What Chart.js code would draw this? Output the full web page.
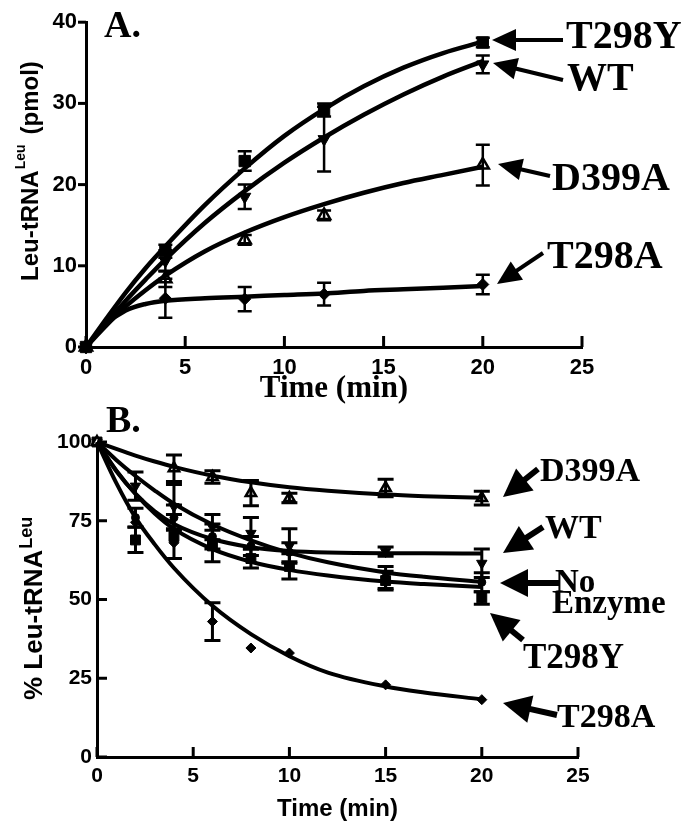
<!DOCTYPE html>
<html>
<head>
<meta charset="utf-8">
<script src="https://cdn.jsdelivr.net/npm/chart.js@4.4.1/dist/chart.umd.min.js"></script>
<style>
	html, body { margin: 0; padding: 0; background: #fff; }
	#wrap { position: relative; width: 688px; height: 829px; overflow: hidden; }
	#wrap canvas { position: absolute; left: 0; }
	#chartA { top: 0; }
	#chartB { top: 395px; }
</style>
</head>
<body>
<div id="wrap">
	<canvas id="chartA" width="688" height="410"></canvas>
	<canvas id="chartB" width="688" height="434"></canvas>
</div>
<script>
/* global Chart */
( function () {
	'use strict';

	const SERIF = '"Liberation Serif", "Times New Roman", serif';
	const SANS = '"Liberation Sans", Arial, sans-serif';

	// Panel A: aminoacylation, measured points (pmol)
	const timesA = [ 0, 4, 8, 12, 20 ];
	const t298yA = [ 0, 11.8, 22.9, 29.2, 37.5 ];
	const t298yErrA = [ 0, 0.8, 1.2, 0.8, 0.6 ];
	const wtA = [ 0, 10.6, 18.5, 25.6, 34.8 ];
	const wtErrA = [ 0, 1.3, 1.5, 4.0, 1.1 ];
	const d399aA = [ 0, 8.4, 13.2, 16.2, 22.4 ];
	const d399aErrA = [ 0, 1.0, 0.6, 0.6, 2.5 ];
	const t298aA = [ 0, 6.0, 5.9, 6.5, 7.7 ];
	const t298aErrA = [ 0, 2.4, 1.5, 1.4, 1.2 ];

	// Panel A: fitted curves
	const fitTimesA = [ 0, 1, 2, 3, 4, 6, 8, 10, 12, 14, 16, 18, 20 ];
	const t298yFitA = [ 0, 3.4, 6.7, 9.7, 12.4, 17.5, 22.0, 26.0, 29.3, 32.1, 34.4, 36.2, 37.6 ];
	const wtFitA = [ 0, 2.9, 5.7, 8.3, 10.8, 15.3, 19.2, 22.7, 25.8, 28.6, 31.1, 33.3, 35.2 ];
	const d399aFitA = [ 0, 2.6, 5.0, 7.0, 8.8, 11.8, 14.1, 16.0, 17.6, 19.0, 20.2, 21.2, 22.2 ];
	const t298aFitA = [ 0, 2.8, 4.5, 5.3, 5.7, 6.0, 6.2, 6.4, 6.6, 6.9, 7.1, 7.3, 7.5 ];

	const xTicksA = [ 0, 5, 10, 15, 20, 25 ];
	const yTicksA = [ 0, 10, 20, 30, 40 ];

	// Panel B: deacylation, measured points (% remaining)
	const timesB = [ 0, 2, 4, 6, 8, 10, 15, 20 ];
	const d399aB = [ 100, null, 91.7, 88.9, 83.8, 82.2, 85.4, 82.2 ];
	const d399aErrB = [ 0, 0, 4.2, 2.0, 4.0, 1.5, 2.8, 2.2 ];
	const wtB = [ 100, 86, 79.5, 73, 71, 67, 65.2, 61.5 ];
	const wtErrB = [ 0, 4.5, 7, 4, 5, 5.5, 1.5, 4.5 ];
	const noEnzymeB = [ 100, 76, 76, 70, 67, 65, 57, 55.5 ];
	const noEnzymeErrB = [ 0, 3, 4, 4, 3, 3, 3.5, 3 ];
	const t298yB = [ 100, 68.9, 70, 67, 63, 60.5, 56, 50.5 ];
	const t298yErrB = [ 0, 4, 7, 5, 3, 4, 3, 2 ];
	const t298aB = [ 100, 74.5, 68, 43, 34.6, 33, 22.9, 18.2 ];
	const t298aErrB = [ 0, 0, 0, 6, 0, 0, 0, 0 ];

	// Panel B: fitted curves
	const fitTimesB = [ 0, 1, 2, 3, 4, 6, 8, 10, 12, 15, 17, 20 ];
	const d399aFitB = [ 100, 97.8, 95.7, 93.8, 92.1, 89.3, 87.2, 85.6, 84.5, 83.3, 82.8, 82.3 ];
	const wtFitB = [ 100, 90.8, 83.6, 78.0, 74.0, 69.2, 66.6, 65.4, 64.9, 64.7, 64.7, 64.6 ];
	const noEnzymeFitB = [ 100, 94.3, 89.2, 84.6, 80.4, 73.8, 68.8, 64.8, 61.8, 58.6, 57.2, 55.6 ];
	const t298yFitB = [ 100, 91.0, 83.5, 77.3, 72.4, 66.0, 62.0, 59.4, 57.6, 55.7, 54.9, 54.0 ];
	const t298aFitB = [ 100, 87, 76, 67.5, 60, 48, 39, 32, 26.8, 22.4, 20.5, 18.3 ];

	const xTicksB = [ 0, 5, 10, 15, 20, 25 ];
	const yTicksB = [ 0, 25, 50, 75, 100 ];

	function pairs( xs, ys, errs ) {
		const out = [];
		xs.forEach( function ( x, i ) {
			if ( null === ys[ i ] || undefined === ys[ i ] ) {
				return;
			}
			out.push( { x: x, y: ys[ i ], err: errs ? errs[ i ] : 0 } );
		} );
		return out;
	}

	function fitSet( xs, ys, width ) {
		return {
			data: pairs( xs, ys ),
			showLine: true,
			pointRadius: 0,
			borderColor: '#000',
			borderWidth: width,
			cubicInterpolationMode: 'monotone',
			clip: false,
		};
	}

	function pointSet( xs, ys, errs, marker ) {
		return {
			data: pairs( xs, ys, errs ),
			showLine: false,
			pointStyle: marker.style,
			pointRotation: marker.rotation || 0,
			pointRadius: marker.radius,
			pointBackgroundColor: marker.fill,
			pointBorderColor: '#000',
			pointBorderWidth: marker.border || 1,
			clip: false,
			errorBars: true,
		};
	}

	const figurePlugin = {
		id: 'figure',
		afterDatasetsDraw: function ( chart, args, opts ) {
			const ctx = chart.ctx;
			const xs = chart.scales.x;
			const ys = chart.scales.y;

			ctx.save();
			ctx.strokeStyle = '#000';
			ctx.lineWidth = opts.errWidth;
			chart.data.datasets.forEach( function ( ds ) {
				if ( ! ds.errorBars ) {
					return;
				}
				ds.data.forEach( function ( p ) {
					if ( ! p.err ) {
						return;
					}
					const px = xs.getPixelForValue( p.x );
					const top = ys.getPixelForValue( p.y + p.err );
					const bot = ys.getPixelForValue( p.y - p.err );
					ctx.beginPath();
					ctx.moveTo( px, top );
					ctx.lineTo( px, bot );
					ctx.moveTo( px - opts.capHalf, top );
					ctx.lineTo( px + opts.capHalf, top );
					ctx.moveTo( px - opts.capHalf, bot );
					ctx.lineTo( px + opts.capHalf, bot );
					ctx.stroke();
				} );
			} );
			ctx.restore();
		},
		afterDraw: function ( chart, args, opts ) {
			const ctx = chart.ctx;
			const area = chart.chartArea;
			const xs = chart.scales.x;
			const ys = chart.scales.y;

			ctx.save();
			ctx.strokeStyle = '#000';
			ctx.fillStyle = '#000';
			ctx.lineWidth = 3;
			xs.ticks.forEach( function ( t ) {
				const px = xs.getPixelForValue( t.value );
				ctx.beginPath();
				ctx.moveTo( px, area.bottom );
				ctx.lineTo( px, area.bottom - opts.xTickLen );
				ctx.stroke();
			} );
			ys.ticks.forEach( function ( t ) {
				const py = ys.getPixelForValue( t.value );
				ctx.beginPath();
				ctx.moveTo( area.left, py );
				ctx.lineTo( area.left + opts.yTickLen, py );
				ctx.stroke();
			} );

			// rotated y title with superscript
			const yt = opts.yTitle;
			ctx.translate( yt.x, yt.y );
			ctx.rotate( -Math.PI / 2 );
			ctx.textAlign = 'left';
			ctx.textBaseline = 'alphabetic';
			let pos = 0;
			yt.parts.forEach( function ( part ) {
				ctx.font = 'bold ' + part.size + 'px ' + SANS;
				pos += part.gap || 0;
				ctx.fillText( part.text, pos, -( part.rise || 0 ) );
				pos += ctx.measureText( part.text ).width;
			} );
			ctx.setTransform( 1, 0, 0, 1, 0, 0 );

			// panel letter
			ctx.font = 'bold ' + opts.letter.size + 'px ' + SERIF;
			ctx.fillText( opts.letter.text, opts.letter.x, opts.letter.y );

			// arrows with labels
			opts.notes.forEach( function ( n ) {
				drawArrow( ctx, n.from, n.to, opts.arrow );
				ctx.font = 'bold ' + n.size + 'px ' + SERIF;
				n.lines.forEach( function ( line ) {
					ctx.fillText( line.text, line.x, line.y );
				} );
			} );
			ctx.restore();
		},
	};

	function drawArrow( ctx, from, to, style ) {
		const dx = to[ 0 ] - from[ 0 ];
		const dy = to[ 1 ] - from[ 1 ];
		const len = Math.sqrt( dx * dx + dy * dy );
		const ux = dx / len;
		const uy = dy / len;
		const bx = to[ 0 ] - ux * style.head;
		const by = to[ 1 ] - uy * style.head;

		ctx.lineWidth = style.shaft;
		ctx.beginPath();
		ctx.moveTo( from[ 0 ], from[ 1 ] );
		ctx.lineTo( bx + ux * 2, by + uy * 2 );
		ctx.stroke();

		ctx.beginPath();
		ctx.moveTo( to[ 0 ], to[ 1 ] );
		ctx.lineTo( bx - uy * style.half, by + ux * style.half );
		ctx.lineTo( bx + uy * style.half, by - ux * style.half );
		ctx.closePath();
		ctx.fill();
	}

	function axes( cfg ) {
		return {
			x: {
				type: 'linear',
				min: cfg.xTicks[ 0 ],
				max: cfg.xTicks[ cfg.xTicks.length - 1 ],
				afterBuildTicks: function ( scale ) {
					scale.ticks = cfg.xTicks.map( function ( v ) {
						return { value: v };
					} );
				},
				afterFit: function ( scale ) {
					scale.height = cfg.xHeight;
				},
				grid: { drawOnChartArea: false, drawTicks: false },
				border: { display: true, color: '#000', width: 3 },
				ticks: {
					color: '#000',
					padding: cfg.xPad,
					font: { family: SANS, size: cfg.tickSize, weight: 'bold' },
				},
				title: {
					display: true,
					text: 'Time (min)',
					color: '#000',
					font: cfg.xTitleFont,
					padding: { top: 0, bottom: cfg.xTitlePad },
				},
			},
			y: {
				type: 'linear',
				min: cfg.yTicks[ 0 ],
				max: cfg.yTicks[ cfg.yTicks.length - 1 ],
				afterBuildTicks: function ( scale ) {
					scale.ticks = cfg.yTicks.map( function ( v ) {
						return { value: v };
					} );
				},
				afterFit: function ( scale ) {
					scale.width = cfg.yWidth;
				},
				grid: { drawOnChartArea: false, drawTicks: false },
				border: { display: true, color: '#000', width: 3 },
				ticks: {
					color: '#000',
					padding: cfg.yPad,
					font: { family: SANS, size: cfg.tickSize, weight: 'bold' },
				},
			},
		};
	}

	function baseOptions( cfg ) {
		return {
			responsive: false,
			animation: false,
			events: [],
			layout: { autoPadding: false, padding: cfg.padding },
			plugins: {
				legend: { display: false },
				tooltip: { enabled: false },
				figure: cfg.figure,
			},
			scales: axes( cfg ),
		};
	}

	// ---- Panel A ----
	new Chart( document.getElementById( 'chartA' ), {
		type: 'scatter',
		data: {
			datasets: [
				fitSet( fitTimesA, t298yFitA, 4.5 ),
				fitSet( fitTimesA, wtFitA, 4.5 ),
				fitSet( fitTimesA, d399aFitA, 4.5 ),
				fitSet( fitTimesA, t298aFitA, 4.5 ),
				pointSet( timesA, t298yA, t298yErrA, { style: 'rect', radius: 8, fill: '#000' } ),
				pointSet( timesA, wtA, wtErrA, { style: 'triangle', rotation: 180, radius: 7, fill: '#000' } ),
				pointSet( timesA, d399aA, d399aErrA, { style: 'triangle', radius: 7, fill: '#fff', border: 2.5 } ),
				pointSet( timesA, t298aA, t298aErrA, { style: 'rectRot', radius: 6, fill: '#000' } ),
			],
		},
		options: baseOptions( {
			padding: { left: 0, top: 20, right: 106, bottom: 0 },
			xTicks: xTicksA,
			yTicks: yTicksA,
			xHeight: 63,
			yWidth: 86,
			xPad: 8,
			yPad: 9,
			tickSize: 22,
			xTitleFont: { family: SERIF, size: 31, weight: 'bold' },
			xTitlePad: 2,
			figure: {
				errWidth: 2.5,
				capHalf: 7,
				xTickLen: 11,
				yTickLen: -8,
				yTitle: {
					x: 38,
					y: 281,
					parts: [
						{ text: 'Leu-tRNA', size: 24 },
						{ text: 'Leu', size: 14, rise: 13, gap: 1 },
						{ text: '(pmol)', size: 24, gap: 10 },
					],
				},
				letter: { text: 'A.', x: 104, y: 37, size: 38 },
				arrow: { shaft: 4, head: 24, half: 11 },
				notes: [
					{ from: [ 563, 40 ], to: [ 492, 40 ], size: 40, lines: [ { text: 'T298Y', x: 566, y: 48 } ] },
					{ from: [ 563, 80 ], to: [ 493, 63 ], size: 40, lines: [ { text: 'WT', x: 567, y: 90 } ] },
					{ from: [ 550, 176 ], to: [ 498, 164 ], size: 40, lines: [ { text: 'D399A', x: 552, y: 190 } ] },
					{ from: [ 543, 253 ], to: [ 497, 284 ], size: 40, lines: [ { text: 'T298A', x: 547, y: 268 } ] },
				],
			},
		} ),
		plugins: [ figurePlugin ],
	} );

	// ---- Panel B ----
	new Chart( document.getElementById( 'chartB' ), {
		type: 'scatter',
		data: {
			datasets: [
				fitSet( fitTimesB, d399aFitB, 4 ),
				fitSet( fitTimesB, wtFitB, 4 ),
				fitSet( fitTimesB, noEnzymeFitB, 4 ),
				fitSet( fitTimesB, t298yFitB, 4 ),
				fitSet( fitTimesB, t298aFitB, 4 ),
				pointSet( timesB, d399aB, d399aErrB, { style: 'triangle', radius: 6, fill: '#fff', border: 2.5 } ),
				pointSet( timesB, wtB, wtErrB, { style: 'triangle', rotation: 180, radius: 6, fill: '#000' } ),
				pointSet( timesB, noEnzymeB, noEnzymeErrB, { style: 'circle', radius: 4, fill: '#000' } ),
				pointSet( timesB, t298yB, t298yErrB, { style: 'rect', radius: 7, fill: '#000' } ),
				pointSet( timesB, t298aB, t298aErrB, { style: 'rectRot', radius: 5, fill: '#000' } ),
			],
		},
		options: baseOptions( {
			padding: { left: 0, top: 47, right: 110, bottom: 0 },
			xTicks: xTicksB,
			yTicks: yTicksB,
			xHeight: 72,
			yWidth: 97,
			xPad: 7,
			yPad: 5,
			tickSize: 21,
			xTitleFont: { family: SANS, size: 24, weight: 'bold' },
			xTitlePad: 5,
			figure: {
				errWidth: 3,
				capHalf: 8,
				xTickLen: 10,
				yTickLen: 10,
				yTitle: {
					x: 42,
					y: 305,
					parts: [
						{ text: '% Leu-tRNA', size: 26 },
						{ text: 'Leu', size: 18, rise: 10, gap: 1 },
					],
				},
				letter: { text: 'B.', x: 106, y: 37, size: 38 },
				arrow: { shaft: 6, head: 28, half: 14 },
				notes: [
					{ from: [ 538, 74 ], to: [ 503, 102 ], size: 34, lines: [ { text: 'D399A', x: 540, y: 86 } ] },
					{ from: [ 543, 132 ], to: [ 503, 158 ], size: 34, lines: [ { text: 'WT', x: 545, y: 143 } ] },
					{ from: [ 560, 188 ], to: [ 500, 188 ], size: 33, lines: [ { text: 'No', x: 555, y: 197 }, { text: 'Enzyme', x: 552, y: 218 } ] },
					{ from: [ 523, 245 ], to: [ 490, 218 ], size: 35, lines: [ { text: 'T298Y', x: 523, y: 273 } ] },
					{ from: [ 557, 320 ], to: [ 503, 308 ], size: 34, lines: [ { text: 'T298A', x: 557, y: 332 } ] },
				],
			},
		} ),
		plugins: [ figurePlugin ],
	} );
}() );
</script>
</body>
</html>
